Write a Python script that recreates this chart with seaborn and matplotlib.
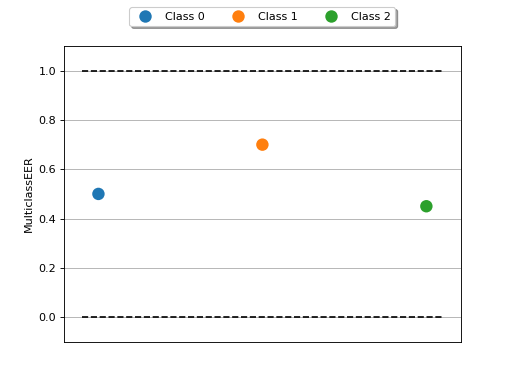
import matplotlib
matplotlib.use("Agg")
import matplotlib.pyplot as plt
import seaborn as sns
import pandas as pd

classes = ["Class 0", "Class 1", "Class 2"]
values = [0.50, 0.70, 0.45]
positions = [0, 1, 2]
ylabel = "MulticlassEER"
lower_bound = 0.0
upper_bound = 1.0

df = pd.DataFrame({"x": positions, "value": values, "cls": classes})
palette = dict(zip(classes, sns.color_palette("tab10", 3)))

fig, ax = plt.subplots(figsize=(6.4, 4.8), dpi=80)
sns.scatterplot(data=df, x="x", y="value", hue="cls", palette=palette,
                s=125, linewidth=0, ax=ax, legend=True)
ax.set_xlim(-0.21, 2.21)
xlim = (-0.1, 2.1)
ax.hlines(lower_bound, xlim[0], xlim[1], linestyles="dashed", colors="k")
ax.hlines(upper_bound, xlim[0], xlim[1], linestyles="dashed", colors="k")
ax.set_ylim(-0.1, 1.1)
ax.yaxis.grid(True, color="#b0b0b0", linewidth=0.8)
ax.set_axisbelow(True)
ax.get_xaxis().set_visible(False)
ax.set_ylabel(ylabel)
handles, labels = ax.get_legend_handles_labels()
ax.legend(handles, labels, loc="upper center", bbox_to_anchor=(0.5, 1.15),
          ncol=3, fancybox=True, shadow=True)
fig.savefig("out.png", dpi=80)
